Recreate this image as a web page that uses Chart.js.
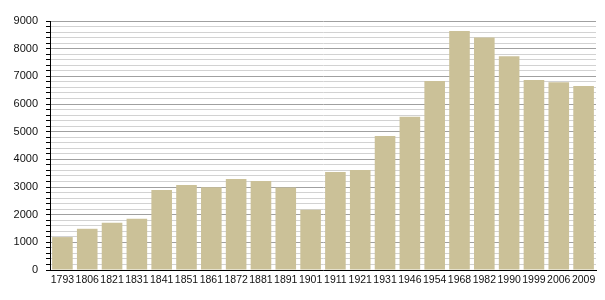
<!DOCTYPE html>
<html>
<head>
<meta charset="utf-8">
<script src="https://cdn.jsdelivr.net/npm/chart.js@4/dist/chart.umd.min.js"></script>
<style>
  html, body { margin: 0; padding: 0; background: #fff; }
  #wrap { width: 605px; height: 300px; }
</style>
</head>
<body>
<div id="wrap"><canvas id="popChart"></canvas></div>
<script>
// census years and population
var years = ['1793','1806','1821','1831','1841','1851','1861','1872','1881','1891','1901','1911',
             '1921','1931','1946','1954','1968','1982','1990','1999','2006','2009'];
var population = [1190, 1490, 1710, 1850, 2890, 3070, 2990, 3290, 3220, 2980, 2180, 3540,
                  3610, 4840, 5540, 6830, 8640, 8400, 7730, 6870, 6790, 6650];
var yMin = 0;
var yMax = 9000;
var yStep = 200;
var labelEvery = 1000;

const popChartCtx = document.getElementById('popChart');

var popData = {
    labels: years,
    datasets: [{
        label: '',
        data: population,
        backgroundColor: '#cbc198',
        borderWidth: 0,
        barPercentage: 0.83,
        categoryPercentage: 1.0
    }]
};

var popChart = new Chart(popChartCtx, {
    type: 'bar',
    data: popData,
    options: {
        responsive: true,
        maintainAspectRatio: false,
        animation: false,
        layout: { padding: { top: 21, right: 9, left: 0, bottom: 0 } },
        plugins: {
            legend: { display: false },
            tooltip: { enabled: false }
        },
        scales: {
            x: {
                grid: { display: false, drawTicks: false },
                border: { color: '#000', width: 1 },
                ticks: {
                    color: '#111',
                    font: { family: 'Liberation Sans, Arial, sans-serif', size: 10.5 },
                    maxRotation: 0,
                    autoSkip: false,
                    padding: 4
                },
                afterFit: function (axis) { axis.height = 30; }
            },
            y: {
                min: yMin,
                max: yMax,
                border: { color: '#000', width: 1 },
                grid: {
                    color: function (c) {
                        return c.tick.value % labelEvery === 0 ? '#a0a0a0' : '#d2d2d2';
                    },
                    tickColor: '#000',
                    tickLength: 4
                },
                ticks: {
                    stepSize: yStep,
                    autoSkip: false,
                    color: '#111',
                    padding: 8,
                    font: { family: 'Liberation Sans, Arial, sans-serif', size: 11 },
                    callback: function (v) {
                        return v % labelEvery === 0 ? String(v) : '';
                    }
                },
                afterFit: function (axis) { axis.width = 50; }
            }
        }
    }
});
</script>
</body>
</html>
